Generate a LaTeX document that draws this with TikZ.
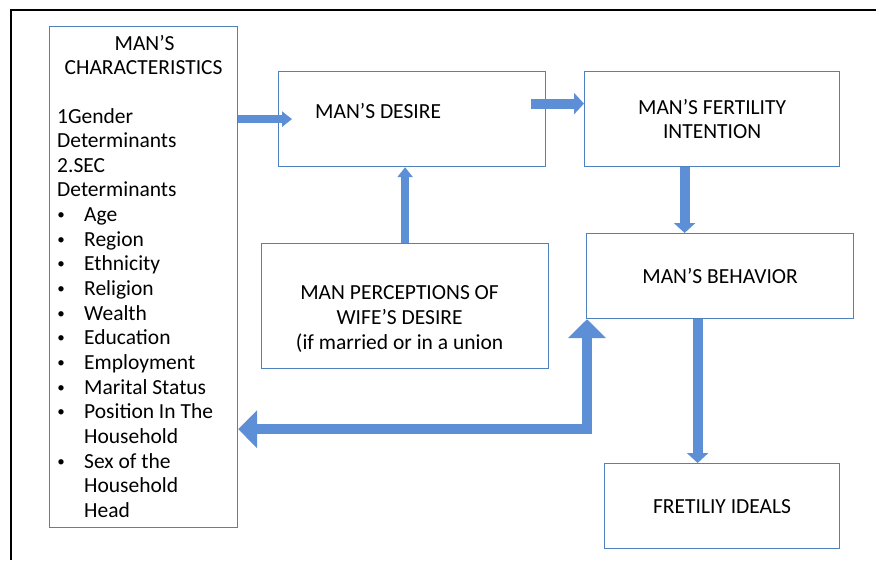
\documentclass[tikz,border=0pt]{standalone}
\usepackage{fontspec}
\setmainfont{Carlito}
\usetikzlibrary{arrows.meta,calc,positioning}
\definecolor{boxblue}{RGB}{79,129,189}
\definecolor{arrowblue}{RGB}{92,143,214}
\tikzset{>=Triangle}
\tikzset{
  box/.style={draw=boxblue, line width=1.2pt, fill=white, anchor=north west, inner sep=0pt},
  txt/.style={font=\fontsize{21.5}{24.6}\selectfont, text=black, inner sep=0pt},
  fat/.style={draw=arrowblue, line width=10pt, -{Triangle[width=21pt,length=10pt]}},
  slim/.style={draw=arrowblue, line width=8pt, -{Triangle[width=15pt,length=10pt]}},
  feedback/.style={draw=arrowblue, line width=10pt, line join=miter,
    {Triangle[width=37pt,length=19pt]}-{Triangle[width=37pt,length=19pt]}}
}

\begin{document}
\begin{tikzpicture}[x=1pt,y=-1pt]
\useasboundingbox (0,0) rectangle (876,560);
% outer frame
\draw[line width=1.5pt] (876,10) -- (11,10) -- (11,560);

% boxes
\node[box, minimum width=188pt, minimum height=501pt] (chars) at (49,26) {};
\node[box, minimum width=267pt, minimum height=95pt] (desire) at (278,71) {};
\node[box, txt, align=center, minimum width=255pt, minimum height=95pt] (fert) at (584,71) {MAN’S FERTILITY\\INTENTION};
\node[box, minimum width=287pt, minimum height=125pt] (percep) at (261,243) {};
\node[box, txt, minimum width=267pt, minimum height=85pt] (behav) at (586,233) {MAN’S BEHAVIOR};
\node[box, txt, minimum width=235pt, minimum height=85pt] (ideals) at (604,463) {FRETILIY IDEALS};

% texts
\node[txt, anchor=base] (head1) at ($(chars.north)+(1,24)$) {MAN’S};
\node[txt, anchor=base] (head2) at ($(chars.north)+(0,48)$) {CHARACTERISTICS};
\foreach \t [count=\i from 0] in {1Gender, Determinants, 2.SEC, Determinants}
  \node[txt, anchor=base west] (det\i) at ($(chars.north west)+(8,97+24.65*\i)$) {\t};
\foreach \t/\b [count=\i from 4] in {Age/1, Region/1, Ethnicity/1, Religion/1, Wealth/1,
    Education/1, Employment/1, Marital Status/1, Position In The/1, Household/0,
    Sex of the/1, Household/0, Head/0}
{
  \node[txt, anchor=base west] (item\i) at ($(chars.north west)+(35,97+24.65*\i)$) {\t};
  \ifnum\b=1
    \node[txt, anchor=base, font=\fontsize{15}{15}\selectfont] (dot\i) at ($(chars.north west)+(12,95+24.65*\i)$) {\textbullet};
  \fi
}
\node[txt, anchor=base west] (desiretxt) at ($(desire.north west)+(37,47)$) {MAN’S DESIRE};
\node[txt, anchor=base, align=center] (perceptxt) at ($(percep.north)+(-5.5,106)$)
  {MAN PERCEPTIONS OF\\WIFE’S DESIRE\\(if married or in a union};

% arrows
\draw[slim] (chars.east |- desire.west) -- ([xshift=14pt]desire.west);
\draw[fat] ([xshift=-15pt,yshift=15.5pt]desire.east) -- ([yshift=15.5pt]fert.west);
\draw[slim] (percep.north) -- (percep.north |- desire.south);
\draw[fat] ([xshift=-27.5pt]fert.south) -- ([xshift=-27.5pt]fert.south |- behav.north);
\draw[fat] ([xshift=-22.5pt]behav.south) -- ([xshift=-22.5pt]behav.south |- ideals.north);
\coordinate (back) at ($(chars.south east)+(0,-99)$);
\draw[feedback] (back) -| ([xshift=1pt]behav.south west);
\end{tikzpicture}
\end{document}
